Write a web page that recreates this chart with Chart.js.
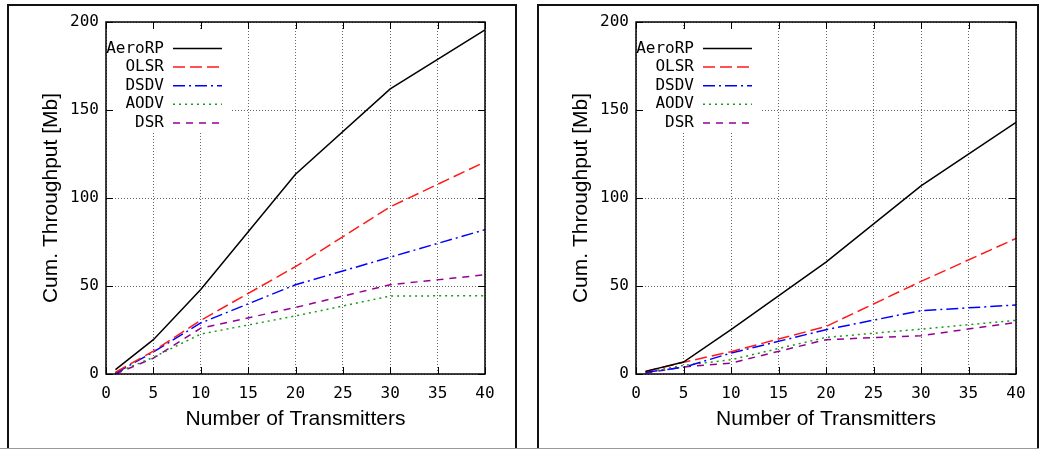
<!DOCTYPE html>
<html>
<head>
<meta charset="utf-8">
<script src="https://cdn.jsdelivr.net/npm/chart.js@4"></script>
<style>
  html, body { margin: 0; padding: 0; background: #fff; width: 1039px; height: 449px; overflow: hidden; }
  .frame { position: absolute; box-sizing: border-box; border-top: 2px solid #111; border-left: 2px solid #111; border-right: 2px solid #111; }
  .cv { position: absolute; }
  .bottomline { position: absolute; left: 0; top: 448px; width: 1039px; height: 1px; background: #999; }
</style>
</head>
<body>
<div class="frame" style="left:7px; top:4px; width:510px; height:445px;"></div>
<div class="frame" style="left:537px; top:4px; width:502px; height:445px;"></div>
<div class="bottomline"></div>
<div class="cv" style="left:8px; top:5px; width:509px; height:444px;"><canvas id="c1"></canvas></div>
<div class="cv" style="left:538px; top:5px; width:500px; height:444px;"><canvas id="c2"></canvas></div>
<script>
// ---- data ----
const transmitters = [1, 5, 10, 20, 30, 40];
const seriesNames = ['AeroRP', 'OLSR', 'DSDV', 'AODV', 'DSR'];

// left panel
const leftAeroRP = [2.5, 19.5, 48, 113.5, 162, 195.5];
const leftOLSR   = [1, 13, 30.5, 61, 95, 120.5];
const leftDSDV   = [0.5, 12.5, 29, 50.7, 66.4, 82];
const leftAODV   = [0.5, 9.5, 22.7, 33, 44.3, 44.5];
const leftDSR    = [0, 9, 26, 37.8, 50.7, 56.4];

// right panel
const rightAeroRP = [1.5, 6.8, 25.2, 63.6, 106.9, 143];
const rightOLSR   = [1.5, 6.6, 12.7, 27, 52.6, 77];
const rightDSDV   = [1, 3.8, 11.9, 25.2, 36, 39.2];
const rightAODV   = [1, 4.9, 8.1, 20.8, 25.5, 30.5];
const rightDSR    = [0.5, 4, 6.2, 19.5, 21.8, 29.3];

const xTicks = [0, 5, 10, 15, 20, 25, 30, 35, 40];
const yTicks = [0, 50, 100, 150, 200];

const xTitle = 'Number of Transmitters';
const yTitle = 'Cum. Throughput [Mb]';

// ---- styles ----
const styles = [
  { color: '#000000', dash: [] },
  { color: '#ff1a1a', dash: [12, 5] },
  { color: '#0000ff', dash: [12, 4, 2, 4] },
  { color: '#1a9a1a', dash: [2, 4] },
  { color: '#940094', dash: [7, 6] }
];

function makeDatasets(arrs) {
  return arrs.map((vals, i) => ({
    label: seriesNames[i],
    data: vals.map((v, j) => ({ x: transmitters[j], y: v })),
    borderColor: styles[i].color,
    borderDash: styles[i].dash,
    borderWidth: 1.5,
    pointRadius: 0,
    fill: false,
    tension: 0
  }));
}

const monoFont = "'DejaVu Sans Mono', monospace";
const sansFont = "'Liberation Sans', Arial, sans-serif";

const framePlugin = {
  id: 'gnuframe',
  beforeDatasetsDraw(chart) {
    const { ctx, chartArea: a } = chart;
    ctx.save();
    ctx.fillStyle = '#fff';
    ctx.fillRect(a.left + 1, a.top + 9, 123, 101);
    ctx.restore();
  },
  afterDatasetsDraw(chart) {
    const { ctx, chartArea: a, scales } = chart;
    ctx.save();
    ctx.strokeStyle = '#000';
    ctx.lineWidth = 1;
    ctx.beginPath();
    xTicks.forEach(t => {
      const x = Math.round(scales.x.getPixelForValue(t)) + 0.5;
      ctx.moveTo(x, a.bottom); ctx.lineTo(x, a.bottom - 7);
      ctx.moveTo(x, a.top); ctx.lineTo(x, a.top + 7);
    });
    yTicks.forEach(t => {
      const y = Math.round(scales.y.getPixelForValue(t)) + 0.5;
      ctx.moveTo(a.left, y); ctx.lineTo(a.left + 7, y);
      ctx.moveTo(a.right, y); ctx.lineTo(a.right - 7, y);
    });
    ctx.stroke();
    ctx.lineWidth = 1.5;
    ctx.strokeRect(a.left, a.top, a.right - a.left, a.bottom - a.top);
    ctx.font = '16px ' + monoFont;
    ctx.textAlign = 'right';
    ctx.textBaseline = 'middle';
    chart.data.datasets.forEach((ds, i) => {
      const y = a.top + 26.5 + i * 18.6;
      ctx.fillStyle = '#000';
      ctx.fillText(ds.label, a.left + 58, y);
      ctx.beginPath();
      ctx.strokeStyle = ds.borderColor;
      ctx.lineWidth = 1.5;
      ctx.setLineDash(ds.borderDash);
      ctx.moveTo(a.left + 67, y);
      ctx.lineTo(a.left + 116, y);
      ctx.stroke();
      ctx.setLineDash([]);
    });
    ctx.restore();
  }
};

function makeChart(id, arrs, rightPad) {
  return new Chart(document.getElementById(id), {
    type: 'line',
    data: { datasets: makeDatasets(arrs) },
    plugins: [framePlugin],
    options: {
      responsive: true,
      maintainAspectRatio: false,
      animation: false,
      layout: { padding: { top: 17, right: rightPad, left: 0, bottom: 0 } },
      plugins: { legend: { display: false }, tooltip: { enabled: false } },
      scales: {
        x: {
          type: 'linear',
          min: 0, max: 40,
          afterBuildTicks: s => { s.ticks = xTicks.map(v => ({ value: v })); },
          afterFit: s => { s.height = 75; },
          grid: { color: '#666', drawTicks: false, lineWidth: 1 },
          border: { display: false, dash: [1, 2] },
          ticks: { color: '#000', font: { family: monoFont, size: 16 }, padding: 10, maxRotation: 0 },
          title: { display: true, text: xTitle, color: '#000', font: { family: sansFont, size: 21 }, padding: { top: 0, bottom: 17 } }
        },
        y: {
          type: 'linear',
          min: 0, max: 200,
          afterBuildTicks: s => { s.ticks = yTicks.map(v => ({ value: v })); },
          afterFit: s => { s.width = 98; },
          grid: { color: '#666', drawTicks: false, lineWidth: 1 },
          border: { display: false, dash: [1, 2] },
          ticks: { color: '#000', font: { family: monoFont, size: 16 }, padding: 7 },
          title: { display: true, text: yTitle, color: '#000', font: { family: sansFont, size: 21 }, padding: { top: 31, bottom: 0 } }
        }
      }
    }
  });
}

const leftChart = makeChart('c1', [leftAeroRP, leftOLSR, leftDSDV, leftAODV, leftDSR], 32);
const rightChart = makeChart('c2', [rightAeroRP, rightOLSR, rightDSDV, rightAODV, rightDSR], 22);
</script>
</body>
</html>
